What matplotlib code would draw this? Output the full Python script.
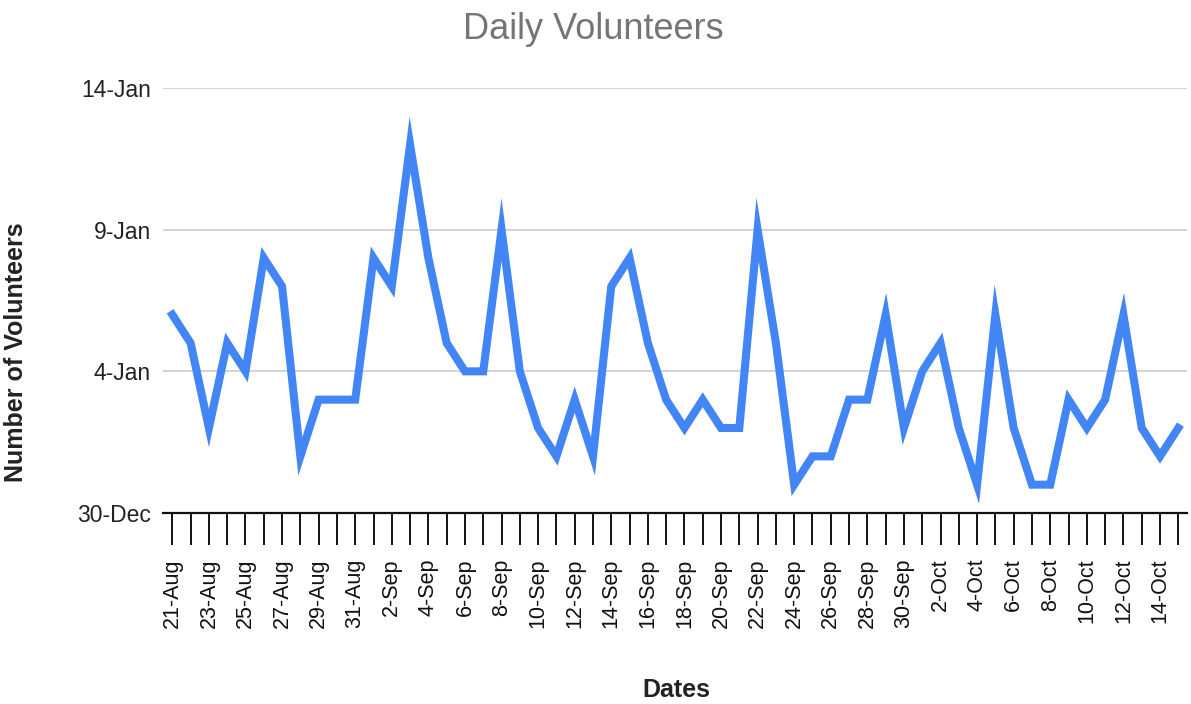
import matplotlib
matplotlib.use("Agg")
import matplotlib.pyplot as plt
import numpy as np
import pandas as pd

plt.rcParams['font.family'] = ['Liberation Sans', 'DejaVu Sans']

# Daily categories (21 Aug -> 15 Oct) and number of volunteers per day
dates = pd.date_range('2020-08-21', '2020-10-15', freq='D')
volunteers = [7, 6, 3, 6, 5, 9, 8, 2, 4, 4,
              4, 9, 8, 13, 9, 6, 5, 5, 10, 5,
              3, 2, 4, 2, 8, 9, 6, 4, 3, 4,
              3, 3, 10, 6, 1, 2, 2, 4, 4, 7,
              3, 5, 6, 3, 1, 7, 3, 1, 1, 4,
              3, 4, 7, 3, 2, 3]

# y axis shows numbers formatted as dates (spreadsheet quirk)
ytick_values = [0, 5, 10, 15]
ytick_labels = ['30-Dec', '4-Jan', '9-Jan', '14-Jan']

date_labels = [f"{d.day}-{d:%b}" for d in dates]

fig = plt.figure(figsize=(11.91, 7.04), dpi=100)
ax = fig.add_axes([0.137, 0.2713, 0.860, 0.6037])

x = np.arange(len(dates))
ax.plot(x, volunteers, color='#4285F4', lw=5.8, solid_joinstyle='miter', zorder=3)

ax.set_xlim(-0.5, len(dates) - 0.5)
ax.set_ylim(0, 15)

ax.set_yticks(ytick_values)
ax.set_yticklabels(ytick_labels, fontsize=16.5, color='#222222')
ax.tick_params(axis='y', length=0, pad=9)
ax.yaxis.grid(True, color='#cccccc', lw=1.2)
ax.set_axisbelow(True)

ax.set_xticks(x)
ax.set_xticklabels([lab if i % 2 == 0 else '' for i, lab in enumerate(date_labels)],
                   rotation=90, fontsize=15.5, color='#111111')
ax.tick_params(axis='x', length=23, width=1.4, pad=10, color='#111111')

for s in ['top', 'right', 'left']:
    ax.spines[s].set_visible(False)
ax.spines['bottom'].set_color('#111111')
ax.spines['bottom'].set_linewidth(1.6)

fig.text(0.498, 0.958, 'Daily Volunteers', ha='center', va='center',
         fontsize=26, color='#757575')
fig.text(0.0135, 0.5, 'Number of Volunteers', rotation=90, ha='center', va='center',
         fontsize=18, fontweight='bold', color='#222222')
fig.text(0.568, 0.02, 'Dates', ha='center', va='center',
         fontsize=18, fontweight='bold', color='#222222')

fig.savefig('out.png', dpi=100)
